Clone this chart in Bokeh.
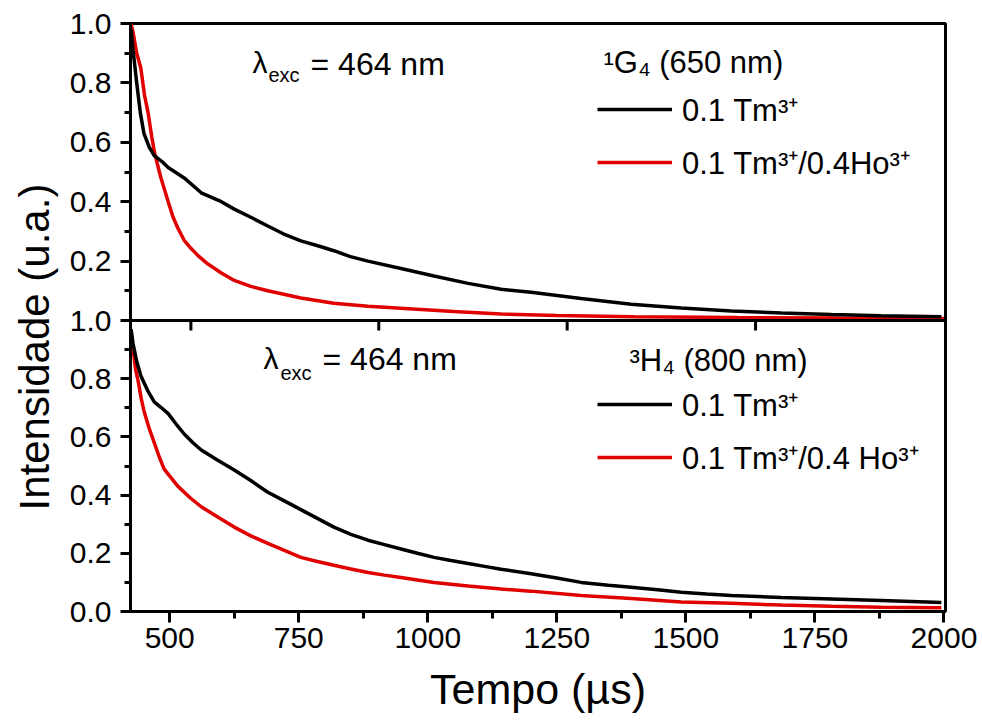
import math
from bokeh.plotting import figure
from bokeh.models import Range1d, LinearAxis, FixedTicker, Span, Label, Legend, LegendItem, Title
from bokeh.embed import file_html
from bokeh.resources import INLINE

# ---------------- data ----------------
# upper panel: 1G4 (650 nm)
top_tm_t = [425, 429, 436, 443, 450, 460, 470, 485, 497, 528, 561, 600, 625, 660, 690, 720,
            754, 790, 818, 850, 884, 948, 1012, 1078, 1142, 1200, 1297, 1394, 1491, 1588,
            1685, 1782, 1878, 1995]
top_tm_v = [0.98, 0.91, 0.80, 0.70, 0.63, 0.585, 0.555, 0.535, 0.515, 0.48, 0.43, 0.40, 0.375,
            0.345, 0.318, 0.292, 0.268, 0.25, 0.235, 0.215, 0.20, 0.175, 0.15, 0.125, 0.105,
            0.095, 0.074, 0.055, 0.042, 0.032, 0.025, 0.02, 0.016, 0.013]

top_ho_t = [425, 429, 436, 444, 451, 458, 465, 470, 477, 483, 490, 497, 506, 516, 528, 541,
            557, 574, 600, 625, 657, 690, 754, 818, 884, 948, 1050, 1142, 1250, 1400, 1600,
            1800, 2000]
top_ho_v = [1.0, 0.97, 0.90, 0.85, 0.76, 0.70, 0.62, 0.57, 0.52, 0.48, 0.44, 0.40, 0.35, 0.31,
            0.27, 0.243, 0.215, 0.19, 0.16, 0.135, 0.115, 0.10, 0.076, 0.058, 0.048, 0.041,
            0.03, 0.022, 0.017, 0.013, 0.01, 0.008, 0.007]

# lower panel: 3H4 (800 nm)
bot_tm_t = [425, 429, 436, 444, 457, 470, 484, 497, 512, 528, 545, 561, 593, 625, 657, 690,
            722, 754, 786, 818, 851, 884, 916, 948, 980, 1012, 1045, 1078, 1110, 1142, 1200,
            1250, 1297, 1350, 1394, 1450, 1491, 1540, 1588, 1685, 1782, 1878, 1995]
bot_tm_v = [0.97, 0.92, 0.86, 0.81, 0.76, 0.72, 0.70, 0.68, 0.645, 0.61, 0.58, 0.555, 0.52,
            0.486, 0.45, 0.41, 0.38, 0.35, 0.32, 0.29, 0.265, 0.245, 0.23, 0.215, 0.20, 0.186,
            0.175, 0.165, 0.155, 0.145, 0.13, 0.115, 0.10, 0.09, 0.083, 0.074, 0.066, 0.06,
            0.055, 0.048, 0.043, 0.038, 0.031]

bot_ho_t = [425, 429, 434, 439, 445, 450, 460, 470, 480, 489, 500, 516, 540, 561, 593, 625,
            657, 690, 722, 754, 786, 818, 851, 884, 916, 948, 980, 1012, 1078, 1142, 1200,
            1297, 1394, 1491, 1588, 1685, 1782, 1878, 1995]
bot_ho_v = [0.97, 0.90, 0.83, 0.79, 0.73, 0.69, 0.63, 0.58, 0.53, 0.49, 0.465, 0.43, 0.39,
            0.36, 0.325, 0.29, 0.26, 0.234, 0.21, 0.186, 0.172, 0.159, 0.146, 0.134, 0.125,
            0.117, 0.108, 0.10, 0.088, 0.077, 0.07, 0.055, 0.045, 0.033, 0.028, 0.022, 0.018,
            0.015, 0.013]

x_major = [500, 750, 1000, 1250, 1500, 1750, 2000]
x_minor = [625, 875, 1125, 1375, 1625, 1875]
inner_x_ticks = [541, 905, 1270, 1635]          # ticks of the upper panel's own x axis
bot_y_major = [0.0, 0.2, 0.4, 0.6, 0.8, 1.0]
bot_y_minor = [0.1, 0.3, 0.5, 0.7, 0.9]
top_y_major = [0.2, 0.4, 0.6, 0.8, 1.0]
top_y_minor = [0.1, 0.3, 0.5, 0.7, 0.9]
x_start, x_end = 424, 2003

leg_tm = "0.1 Tm³⁺"
leg_ho_top = "0.1 Tm³⁺/0.4Ho³⁺"
leg_ho_bot = "0.1 Tm³⁺/0.4 Ho³⁺"
state_top = "¹G₄ (650 nm)"
state_bot = "³H₄ (800 nm)"
y_title = "Intensidade (u.a.)"
x_title = "Tempo (µs)"

# ---------------- layout ----------------
FONT = "Liberation Sans"
W, H = 982, 724
ML, MR, MT, MB = 130, 37, 23, 113
H_TOP, H_BOT = 297, 291
k = H_TOP / H_BOT
BLACK = "#000000"
RED = "#e00000"

p = figure(width=W, height=H, output_backend="svg", toolbar_location=None,
           x_range=Range1d(x_start, x_end), y_range=Range1d(0, 1 + k),
           x_axis_location=None, y_axis_location=None,
           min_border_left=ML, min_border_right=MR, min_border_top=MT, min_border_bottom=MB)
p.extra_y_ranges = {"top": Range1d(1 - (H_TOP + H_BOT) / H_TOP, 1.0)}
p.grid.grid_line_color = None
p.outline_line_color = BLACK
p.outline_line_width = 3
p.background_fill_color = "white"
p.border_fill_color = "white"

# left axis: lower panel values plus upper panel values (mapped onto the shared frame)
left_ticks = list(bot_y_major) + [1 + v * k for v in top_y_major]
left_minor = list(bot_y_minor) + [1 + v * k for v in top_y_minor]
overrides = {}
for v in bot_y_major:
    overrides[v] = f"{v:.1f}"
for v in top_y_major:
    overrides[1 + v * k] = f"{v:.1f}"

yax = LinearAxis(ticker=FixedTicker(ticks=left_ticks, minor_ticks=left_minor),
                 major_label_overrides=overrides)
xax = LinearAxis(ticker=FixedTicker(ticks=x_major, minor_ticks=x_minor),
                 axis_label=x_title)
for ax in (yax, xax):
    ax.axis_line_width = 3
    ax.axis_line_color = BLACK
    ax.major_tick_line_width = 3
    ax.minor_tick_line_width = 3
    ax.major_tick_in = 0
    ax.minor_tick_in = 0
    ax.major_label_text_font = FONT
    ax.major_label_text_font_size = "30px"
    ax.major_label_text_color = BLACK
yax.major_tick_out = 10
yax.minor_tick_out = 6
yax.major_label_standoff = 9
xax.major_tick_out = 11
xax.minor_tick_out = 7
xax.major_label_standoff = 5
xax.axis_label_text_font = FONT
xax.axis_label_text_font_size = "43px"
xax.axis_label_text_font_style = "normal"
xax.axis_label_text_color = BLACK
xax.axis_label_standoff = 14
p.add_layout(yax, "left")
p.add_layout(xax, "below")

# y title spanning both panels (starts a little above the frame bottom)
p.add_layout(Title(text=y_title, align="left", offset=101, standoff=17,
                   text_font=FONT, text_font_size="42px", text_font_style="normal",
                   text_color=BLACK), "left")

# panel separator and the upper panel's own x ticks
p.add_layout(Span(location=1.0, dimension="width", line_color=BLACK, line_width=3))
p.ray(x=inner_x_ticks, y=[1.0] * len(inner_x_ticks), length=10, length_units="screen",
      angle=-math.pi / 2, line_color=BLACK, line_width=3)

# curves
LW = 3.5
r_top_ho = p.line(top_ho_t, top_ho_v, y_range_name="top", line_color=RED, line_width=LW)
r_top_tm = p.line(top_tm_t, top_tm_v, y_range_name="top", line_color=BLACK, line_width=LW)
r_bot_ho = p.line(bot_ho_t, bot_ho_v, line_color=RED, line_width=LW)
r_bot_tm = p.line(bot_tm_t, bot_tm_v, line_color=BLACK, line_width=LW)


def legend(items, loc):
    lg = Legend(items=items, location=loc, padding=0, margin=0, spacing=11,
                glyph_width=75, glyph_height=20, label_standoff=10,
                label_text_font=FONT, label_text_font_size="31px", label_text_color=BLACK,
                border_line_color=None, background_fill_alpha=0)
    p.add_layout(lg)


legend([LegendItem(label=leg_tm, renderers=[r_top_tm]),
        LegendItem(label=leg_ho_top, renderers=[r_top_ho])], (467, 428))
legend([LegendItem(label=leg_tm, renderers=[r_bot_tm]),
        LegendItem(label=leg_ho_bot, renderers=[r_bot_ho])], (467, 133))


def lab(text, x, y, size):
    p.add_layout(Label(x=x, y=y, x_units="canvas", y_units="canvas", text=text,
                       text_font=FONT, text_font_size=size, text_color=BLACK,
                       text_align="left", text_baseline="alphabetic"))


# excitation wavelength and level labels (canvas pixels)
lab("λ", 252, 62, "30px")
lab("exc", 268, 74, "20px")
lab("= 464 nm", 310, 63, "32px")
lab(state_top, 603, 62, "31px")
lab("λ", 263, 358, "30px")
lab("exc", 280, 372, "20px")
lab("= 464 nm", 322, 358, "32px")
lab(state_bot, 629, 360, "31px")

open("out.html", "w").write(file_html(p, INLINE))
